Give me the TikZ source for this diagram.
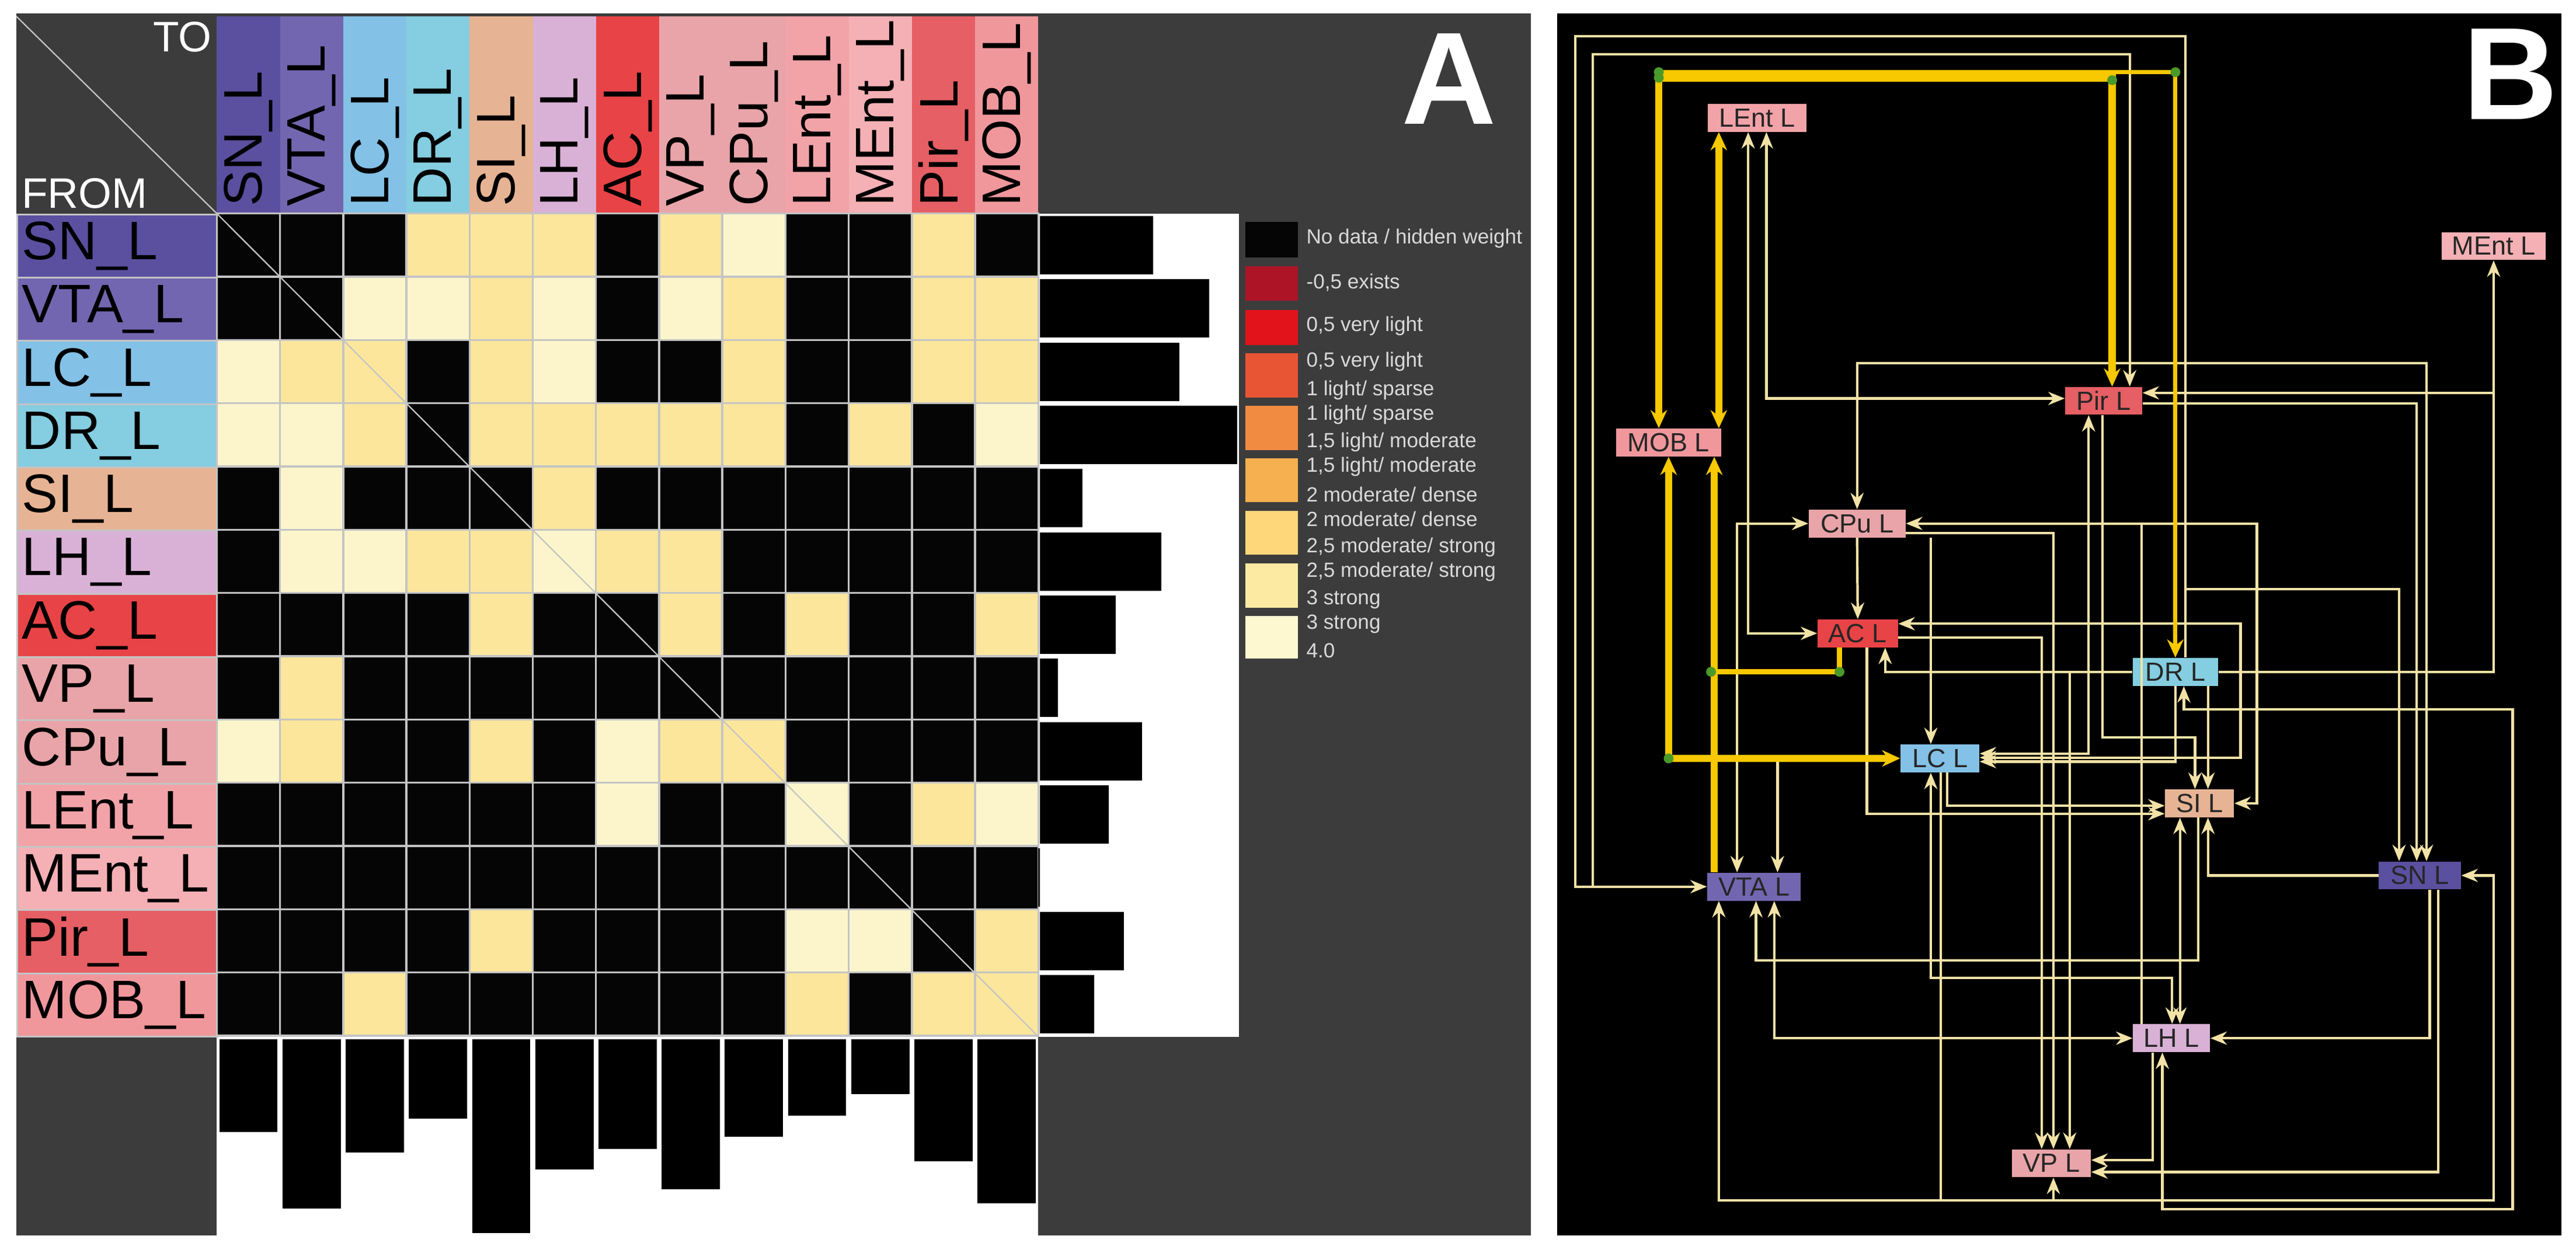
\documentclass[tikz,border=0pt]{standalone}
\usepackage{fontspec}
\setmainfont{Liberation Sans}
\usetikzlibrary{arrows.meta}
\definecolor{panelgray}{HTML}{3C3C3C}
\definecolor{gridc}{HTML}{C4C4C4}
\definecolor{cB}{HTML}{050505}
\definecolor{cY}{HTML}{FBE69C}
\definecolor{cL}{HTML}{FCF5CC}
\definecolor{cSN}{HTML}{5B4FA0}
\definecolor{cVTA}{HTML}{7366B0}
\definecolor{cLC}{HTML}{84C1E6}
\definecolor{cDR}{HTML}{85CDE0}
\definecolor{cSI}{HTML}{E6B494}
\definecolor{cLH}{HTML}{D9B1D6}
\definecolor{cAC}{HTML}{E84346}
\definecolor{cVP}{HTML}{E8A4A8}
\definecolor{cCPu}{HTML}{E8A4A8}
\definecolor{cLEnt}{HTML}{F2A3A8}
\definecolor{cMEnt}{HTML}{F4B0B4}
\definecolor{cPir}{HTML}{E55F64}
\definecolor{cMOB}{HTML}{F0979C}
\definecolor{lg1}{HTML}{050505}
\definecolor{lg2}{HTML}{AD1527}
\definecolor{lg3}{HTML}{E3131B}
\definecolor{lg4}{HTML}{E85535}
\definecolor{lg5}{HTML}{F28B42}
\definecolor{lg6}{HTML}{F6B04F}
\definecolor{lg7}{HTML}{FDD77A}
\definecolor{lg8}{HTML}{FDEAA2}
\definecolor{lg9}{HTML}{FDF8CF}
\definecolor{edc}{HTML}{F2E2A6}
\definecolor{thk}{HTML}{F8C800}
\definecolor{dotc}{HTML}{4A9A2A}
\tikzset{
  big/.style={font=\fontsize{33}{33}\selectfont},
  rowlab/.style={big, anchor=north west, minimum width=122pt, minimum height=38.5pt, text width=116pt, align=left, inner sep=3pt, draw=gridc, line width=1pt},
  collab/.style={big, rotate=90, anchor=west, inner sep=2pt},
  legt/.style={font=\fontsize{12.5}{12.5}\selectfont, text=gray!30, anchor=west, inner sep=0pt},
  bnode/.style={rectangle, inner sep=0pt, minimum height=17pt, font=\fontsize{16}{16}\selectfont, text=black!85},
  ln/.style={draw=edc, line width=1.5pt},
  ed/.style={ln, -{Stealth[length=10pt,width=8pt]}},
  edd/.style={ed, {Stealth[length=10pt,width=8pt]}-{Stealth[length=10pt,width=8pt]}},
  th/.style={draw=thk, line width=4.5pt, -{Stealth[length=11pt,width=10pt]}},
  thd/.style={th, {Stealth[length=11pt,width=10pt]}-{Stealth[length=11pt,width=10pt]}},
  gdot/.style={fill=dotc, circle, inner sep=0pt, minimum size=6pt},
  plabel/.style={font=\bfseries\fontsize{80}{80}\selectfont, text=white}
}
\begin{document}
\begin{tikzpicture}[x=1pt,y=-1pt]
\useasboundingbox (0,0) rectangle (1568,765);
\fill[white] (0,0) rectangle (1568,765);
% ---------------- Panel A ----------------
\fill[panelgray] (10,8) rectangle (932,752);
\fill[white] (632,130) rectangle (754,631);
\fill[white] (132,631) rectangle (632,752);
% corner
\draw[gridc, line width=0.8pt] (10,10) -- (132,130);
\node[text=white, anchor=north east, font=\fontsize{26}{26}\selectfont, inner sep=1pt] (to) at (130,12) {TO};
\node[text=white, anchor=south west, font=\fontsize{26}{26}\selectfont, inner sep=1pt] (from) at (12,128) {FROM};
% columns
\foreach \n/\col/\bot [count=\j from 0] in {SN\_L/cSN/689,VTA\_L/cVTA/735.6,LC\_L/cLC/701.6,DR\_L/cDR/681,SI\_L/cSI/750.6,LH\_L/cLH/712,AC\_L/cAC/699.4,VP\_L/cVP/724,CPu\_L/cCPu/692,LEnt\_L/cLEnt/679,MEnt\_L/cMEnt/666,Pir\_L/cPir/706.7,MOB\_L/cMOB/732.6}{
  \fill[\col] ({132+\j*38.46},10) rectangle ({132+(\j+1)*38.46},130);
  \node[collab] (c\j) at ({132+(\j+0.5)*38.46},128) {\n};
  \fill[black] ({132+\j*38.46+1.5},632.5) rectangle ({132+(\j+1)*38.46-1.5},\bot);
}
% rows
\foreach \n/\col/\bar/\cells [count=\i from 0] in {
 SN\_L/cSN/702/{B,B,B,Y,Y,Y,B,Y,L,B,B,Y,B},
 VTA\_L/cVTA/736/{B,B,L,L,Y,L,B,L,Y,B,B,Y,Y},
 LC\_L/cLC/718/{L,Y,Y,B,Y,L,B,B,Y,B,B,Y,Y},
 DR\_L/cDR/753/{L,L,Y,B,Y,Y,Y,Y,Y,B,Y,B,L},
 SI\_L/cSI/659/{B,L,B,B,B,Y,B,B,B,B,B,B,B},
 LH\_L/cLH/707/{B,L,L,Y,Y,L,Y,Y,B,B,B,B,B},
 AC\_L/cAC/679/{B,B,B,B,Y,B,B,Y,B,Y,B,B,Y},
 VP\_L/cVP/644/{B,Y,B,B,B,B,B,B,B,B,B,B,B},
 CPu\_L/cCPu/695/{L,Y,B,B,Y,B,L,Y,Y,B,B,B,B},
 LEnt\_L/cLEnt/675/{B,B,B,B,B,B,L,B,B,L,B,Y,L},
 MEnt\_L/cMEnt/632/{B,B,B,B,B,B,B,B,B,B,B,B,B},
 Pir\_L/cPir/684/{B,B,B,B,Y,B,B,B,B,L,L,B,Y},
 MOB\_L/cMOB/666/{B,B,Y,B,B,B,B,B,B,Y,B,Y,Y}}{
  \node[rowlab, fill=\col] (r\i) at (10,{130+\i*38.5}) {\n};
  \foreach \c [count=\j from 0] in \cells {
    \filldraw[fill=c\c, draw=gridc, line width=1.2pt] ({132+\j*38.46},{130+\i*38.5}) rectangle ({132+(\j+1)*38.46},{130+(\i+1)*38.5});
  }
  \fill[black] (633,{130+\i*38.5+1.5}) rectangle (\bar,{130+(\i+1)*38.5-1.5});
}
\draw[gridc, line width=0.8pt] (132,130) -- (632,631);
% legend
\foreach \c/\ya/\yb [count=\k] in {lg1/135/156.6,lg2/162/183,lg3/188.7/210,lg4/215/242,lg5/247/274,lg6/279/305.5,lg7/311/337.5,lg8/343/370,lg9/375/401}{
  \fill[\c] (758,\ya) rectangle (790,\yb);
}
\foreach \y/\t [count=\k] in {145/{No data / hidden weight},172/{-0,5 exists},198.6/{0,5 very light},220/{0,5 very light},237.6/{1 light/ sparse},252.6/{1 light/ sparse},269/{1,5 light/ moderate},284/{1,5 light/ moderate},301/{2 moderate/ dense},316/{2 moderate/ dense},333/{2,5 moderate/ strong},348/{2,5 moderate/ strong},365/{3 strong},380/{3 strong},396/{4.0}}{
  \node[legt] (lt\k) at (795,\y) {\t};
}
\node[plabel] (A) at (882,48) {A};
% ---------------- Panel B ----------------
\fill[black] (948,8) rectangle (1559,752);
\node[plabel] (B) at (1528,45) {B};
\begin{scope}[shift={(945,0)}, x=0.397pt, y=-0.488pt]
\node[bnode, fill=cLEnt, minimum width=60pt] (LEnt) at (314,147) {LEnt L};
\node[bnode, fill=cMEnt, minimum width=63pt] (MEnt) at (1443,307) {MEnt L};
\node[bnode, fill=cPir, minimum width=47pt] (Pir) at (845,500) {Pir L};
\node[bnode, fill=cMOB, minimum width=64pt] (MOB) at (178,552) {MOB L};
\node[bnode, fill=cCPu, minimum width=59pt] (CPu) at (467,653) {CPu L};
\node[bnode, fill=cAC, minimum width=49pt] (AC) at (468,790) {AC L};
\node[bnode, fill=cDR, minimum width=52pt] (DR) at (955,838) {DR L};
\node[bnode, fill=cLC, minimum width=48pt] (LC) at (594,946) {LC L};
\node[bnode, fill=cSI, minimum width=42pt] (SI) at (992,1002) {SI L};
\node[bnode, fill=cSN, minimum width=50pt] (SN) at (1330,1092) {SN L};
\node[bnode, fill=cVTA, minimum width=57pt] (VTA) at (309,1106) {VTA L};
\node[bnode, fill=cLH, minimum width=47pt] (LH) at (949,1295) {LH L};
\node[bnode, fill=cVP, minimum width=48pt] (VP) at (765,1451) {VP L};
% thin edges
\draw[ed] (970,0 |- DR.north) -- (970,45) -- (35,45) -- (35,0 |- VTA.west) -- (VTA.west);
\draw[ed] (62,1106) -- (62,68) -- (885,68) -- (885,0 |- Pir.north);
\draw[edd] (300,0 |- LEnt.south) -- (300,0 |- AC.west) -- (AC.west);
\draw[edd] (328,0 |- LEnt.south) -- (328,497) -- (Pir.west |- 0,497);
\draw[ed] (DR.east) -- (1443,0 |- DR.east) -- (1443,0 |- MEnt.south);
\draw[ed] (1443,490) -- (Pir.east |- 0,490);
\draw[ed] (Pir.east |- 0,503) -- (1325,503) -- (1325,0 |- SN.north);
\draw[edd] (467,0 |- CPu.north) -- (467,453) -- (1340,453) -- (1340,0 |- SN.north);
\draw[edd] (822,0 |- Pir.south) -- (822,940) -- (LC.east |- 0,940);
\draw[ed] (843,0 |- Pir.south) -- (843,920) -- (985,920) -- (985,0 |- SI.north);
\draw[edd] (283,0 |- VTA.north) -- (283,653) -- (CPu.west);
\draw[edd] (SI.east) -- (1080,0 |- SI.east) -- (1080,653) -- (CPu.east);
\draw[ed] (CPu.south) -- (AC.north);
\draw[ed] (CPu.east |- 0,665) -- (768,665) -- (768,0 |- VP.north);
\draw[edd] (580,0 |- LC.south) -- (580,1220) -- (950,1220) -- (950,0 |- LH.north);
\draw[ed] (580,0 |- CPu.south) -- (580,0 |- LC.north);
\draw[edd] (AC.east |- 0,778) -- (1055,778) -- (1055,945) -- (LC.east |- 0,945);
\draw[ed] (AC.east |- 0,795) -- (750,795) -- (750,0 |- VP.north);
\draw[ed] (DR.west) -- (510,0 |- DR.west) -- (510,0 |- AC.south);
\draw[ed] (482,0 |- AC.south) -- (482,1015) -- (SI.west |- 0,1015);
\draw[ed] (793,838) -- (793,0 |- VP.north);
\draw[edd] (968,0 |- DR.south) -- (968,885) -- (1472,885) -- (1472,1508) -- (935,1508) -- (935,0 |- LH.south);
\draw[ed] (1005,0 |- DR.south) -- (1005,0 |- SI.north);
\draw[ed] (970,735) -- (1298,735) -- (1298,0 |- SN.north);
\draw[ed] (345,946) -- (345,0 |- VTA.north);
\draw[ed] (955,0 |- DR.south) -- (955,950) -- (LC.east |- 0,950);
\draw[edd] (255,0 |- VTA.south) -- (255,1497) -- (1443,1497) -- (1443,0 |- SN.east) -- (SN.east);
\draw[ln] (595,0 |- LC.south) -- (595,1497);
\draw[ed] (768,1497) -- (768,0 |- VP.south);
\draw[ed] (605,0 |- LC.south) -- (605,1005) -- (SI.west |- 0,1005);
\draw[edd] (962,0 |- SI.south) -- (962,0 |- LH.north);
\draw[ed] (SN.west) -- (1005,0 |- SN.west) -- (1005,0 |- SI.south);
\draw[ed] (990,0 |- SI.south) -- (990,1198) -- (312,1198) -- (312,0 |- VTA.south);
\draw[edd] (340,0 |- VTA.south) -- (340,1295) -- (LH.west);
\draw[ed] (1345,0 |- SN.south) -- (1345,1295) -- (LH.east);
\draw[ed] (1358,0 |- SN.south) -- (1358,1462) -- (VP.east |- 0,1462);
\draw[ed] (920,0 |- LH.south) -- (920,1447) -- (VP.east |- 0,1447);
\draw[ln] (903,653) -- (903,0 |- LH.north);
% thick edges
\draw[thd] (163,0 |- MOB.north) -- (163,97) -- (858,97) -- (858,0 |- Pir.north);
\draw[th, line width=2.5pt] (163,90) -- (955,90) -- (955,0 |- DR.north);
\draw[thd] (255,0 |- LEnt.south) -- (255,0 |- MOB.north);
\draw[th] (248,0 |- VTA.north) -- (248,0 |- MOB.south);
\draw[thd] (178,0 |- MOB.south) -- (178,946) -- (LC.west);
\draw[draw=thk, line width=3pt] (440,0 |- AC.south) -- (440,838) -- (243,838);
\foreach \p [count=\k] in {(163,90),(163,97),(858,100),(955,90),(243,838),(440,838),(178,946)}
  \node[gdot] (g\k) at \p {};
\end{scope}
\end{tikzpicture}
\end{document}
